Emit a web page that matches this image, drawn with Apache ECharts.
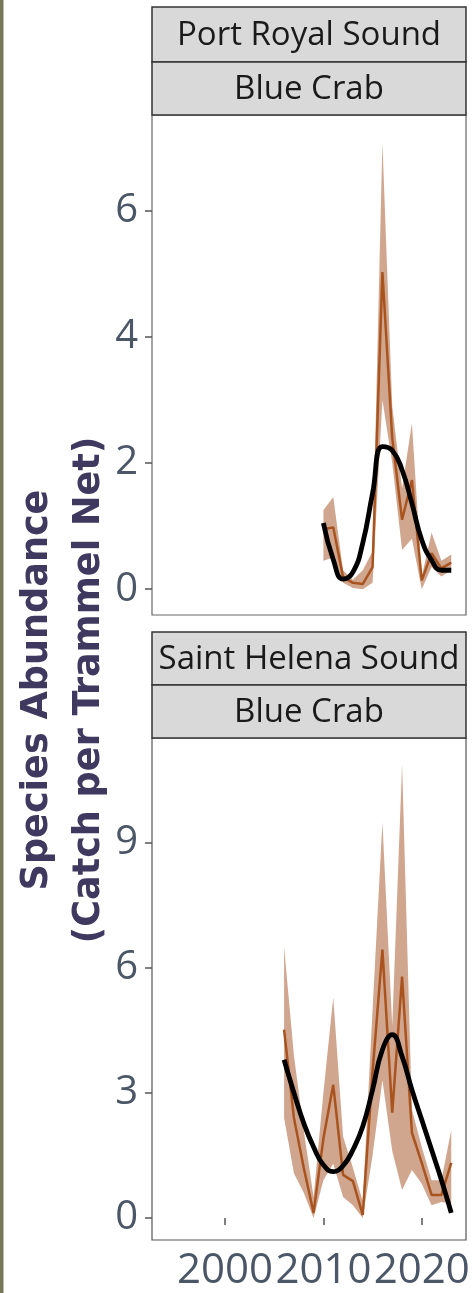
<!DOCTYPE html>
<html>
<head>
<meta charset="utf-8">
<script src="https://cdn.jsdelivr.net/npm/echarts@6/dist/echarts.min.js"></script>
<style>
html,body{margin:0;padding:0;background:#fff;}
#chart{width:475px;height:1293px;}
</style>
</head>
<body>
<div id="chart"></div>
<script>
// ---------- data ----------
const panelTitles = ['Port Royal Sound', 'Saint Helena Sound'];
const speciesTitle = 'Blue Crab';
const yTitle1 = 'Species Abundance';
const yTitle2 = '(Catch per Trammel Net)';

const xTicks = [2000, 2010, 2020];
const yTicks1 = [0, 2, 4, 6];
const yTicks2 = [0, 3, 6, 9];

// Port Royal Sound
const years1  = [2010, 2011, 2012, 2013, 2014, 2015, 2016, 2017, 2018, 2019, 2020, 2021, 2022, 2023];
const mean1   = [0.95, 0.98, 0.19, 0.10, 0.08, 0.35, 5.03, 2.40, 1.10, 1.73, 0.14, 0.57, 0.33, 0.42];
const upper1  = [1.25, 1.46, 0.30, 0.15, 0.30, 0.60, 7.08, 2.90, 1.60, 2.63, 0.20, 0.90, 0.45, 0.55];
const lower1  = [0.45, 0.50, 0.10, 0.02, 0.00, 0.10, 3.00, 2.00, 0.62, 0.80, 0.00, 0.35, 0.20, 0.30];
const smooth1 = [1.05, 0.47, 0.16, 0.27, 0.73, 1.52, 2.26, 2.20, 1.89, 1.36, 0.78, 0.46, 0.30, 0.30];

// Saint Helena Sound
const years2  = [2006, 2007, 2008, 2009, 2010, 2011, 2012, 2013, 2014, 2015, 2016, 2017, 2018, 2019, 2020, 2021, 2022, 2023];
const mean2   = [4.51, 2.40, 1.20, 0.12, 1.90, 3.19, 1.03, 0.88, 0.07, 3.50, 6.43, 2.52, 5.78, 2.04, 1.32, 0.55, 0.55, 1.32];
const upper2  = [6.50, 3.90, 2.10, 0.50, 3.00, 5.28, 1.95, 1.20, 0.40, 5.00, 9.48, 4.60, 10.87, 2.60, 1.70, 0.90, 0.90, 2.10];
const lower2  = [2.40, 1.07, 0.60, 0.00, 0.90, 1.30, 0.50, 0.30, 0.00, 1.50, 3.30, 1.60, 0.67, 1.15, 0.82, 0.30, 0.38, 0.35];
const smooth2 = [3.79, 3.00, 2.27, 1.70, 1.27, 1.11, 1.25, 1.63, 2.19, 3.07, 4.03, 4.39, 3.87, 3.07, 2.35, 1.63, 0.91, 0.12];

// ---------- styling / layout ----------
const LINE_COL = '#a9541f';
const BAND_COL = 'rgba(165,84,40,0.52)';
const TICK_COL = '#4b5767';
const TITLE_COL = '#40395f';
const FONT = '"Open Sans", "Noto Sans", sans-serif';
const TFONT = 'bold 38px "DejaVu Sans Condensed", "DejaVu Sans", sans-serif';
const X0 = 152, PW = 314;
const P1 = {top: 115, h: 500, s1: 7, s2: 62};
const P2 = {top: 738, h: 502, s1: 632, s2: 685};

const pair = (xs, ys) => xs.map((x, i) => [x, ys[i]]);

function panelSeries(idx, years, mean, upper, lower, smooth) {
  const bandData = years.map((x, i) => [x, lower[i], upper[i]]);
  return [
    {type: 'custom', xAxisIndex: idx, yAxisIndex: idx, data: bandData, silent: true, z: 5,
     clip: true,
     renderItem: function (params, api) {
       if (params.dataIndex !== 0) return null;
       const pts = [];
       for (let i = 0; i < bandData.length; i++) pts.push(api.coord([bandData[i][0], bandData[i][2]]));
       for (let i = bandData.length - 1; i >= 0; i--) pts.push(api.coord([bandData[i][0], bandData[i][1]]));
       return {type: 'polygon', shape: {points: pts}, style: {fill: BAND_COL, stroke: null}};
     }},
    {type: 'line', xAxisIndex: idx, yAxisIndex: idx, data: pair(years, mean),
     symbol: 'none', lineStyle: {color: LINE_COL, width: 2.5}, z: 6},
    {type: 'line', xAxisIndex: idx, yAxisIndex: idx, data: pair(years, smooth),
     symbol: 'none', smooth: 0.5, lineStyle: {color: '#000', width: 4.8}, z: 7}
  ];
}

function strip(y, h, text) {
  return [
    {type: 'rect', shape: {x: X0, y: y, width: PW, height: h},
     style: {fill: '#d9d9d9', stroke: '#333', lineWidth: 1.5}, z: 10},
    {type: 'text', x: X0 + PW / 2, y: y + h / 2 + 1, z: 11,
     style: {text: text, fill: '#1a1a1a', font: '33px ' + FONT,
             align: 'center', verticalAlign: 'middle', textAlign: 'center', textVerticalAlign: 'middle'}}
  ];
}

function xAxisCfg(idx, showLabels) {
  return {
    type: 'value', gridIndex: idx, min: 1992.57, max: 2024.5,
    axisLine: {show: false},
    splitLine: {show: false},
    axisTick: {show: showLabels, customValues: xTicks, length: 7, lineStyle: {color: '#555', width: 1.5}},
    axisLabel: {show: showLabels, customValues: xTicks, margin: 10, color: TICK_COL,
                fontSize: 42, fontFamily: FONT, formatter: v => String(v)}
  };
}
function yAxisCfg(idx, min, max, ticks) {
  return {
    type: 'value', gridIndex: idx, min: min, max: max,
    axisLine: {show: false},
    splitLine: {show: false},
    axisTick: {show: true, customValues: ticks, length: 7, lineStyle: {color: '#555', width: 1.5}},
    axisLabel: {show: true, customValues: ticks, margin: 14, color: TICK_COL,
                fontSize: 40, fontFamily: FONT, formatter: v => String(v)}
  };
}

const chart = echarts.init(document.getElementById('chart'), null, {renderer: 'canvas'});
chart.setOption({
  animation: false,
  backgroundColor: '#fff',
  grid: [
    {left: X0, top: P1.top, width: PW, height: P1.h, show: true, borderColor: '#666', borderWidth: 1.2},
    {left: X0, top: P2.top, width: PW, height: P2.h, show: true, borderColor: '#555', borderWidth: 1.2}
  ],
  xAxis: [xAxisCfg(0, false), xAxisCfg(1, true)],
  yAxis: [yAxisCfg(0, -0.41, 7.52, yTicks1), yAxisCfg(1, -0.53, 11.5, yTicks2)],
  series: [
    ...panelSeries(0, years1, mean1, upper1, lower1, smooth1),
    ...panelSeries(1, years2, mean2, upper2, lower2, smooth2)
  ],
  graphic: [
    {type: 'rect', shape: {x: 0, y: 0, width: 3.5, height: 1293}, style: {fill: '#767658'}},
    ...strip(P1.s1, P1.s2 - P1.s1, panelTitles[0]),
    ...strip(P1.s2, P1.top - P1.s2, speciesTitle),
    ...strip(P2.s1, P2.s2 - P2.s1, panelTitles[1]),
    ...strip(P2.s2, P2.top - P2.s2, speciesTitle),
    {type: 'text', x: 37, y: 690, rotation: Math.PI / 2, scaleX: 1.07,
     style: {text: yTitle1, fill: TITLE_COL, font: TFONT,
             align: 'center', verticalAlign: 'middle', textAlign: 'center', textVerticalAlign: 'middle'}},
    {type: 'text', x: 89, y: 690, rotation: Math.PI / 2, scaleX: 1.07,
     style: {text: yTitle2, fill: TITLE_COL, font: TFONT,
             align: 'center', verticalAlign: 'middle', textAlign: 'center', textVerticalAlign: 'middle'}}
  ]
});
</script>
</body>
</html>
